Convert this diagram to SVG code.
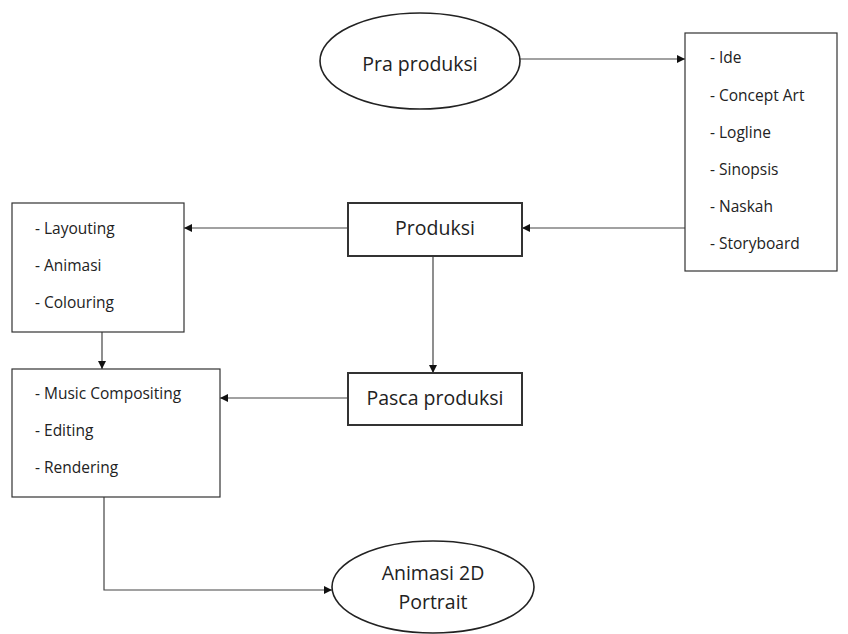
<svg xmlns="http://www.w3.org/2000/svg" width="848" height="634" viewBox="0 0 848 634">
  <style>
    .box { fill: #fff; stroke: #333; stroke-width: 1.2; }
    .boxb { fill: #fff; stroke: #333; stroke-width: 2; }
    .ell { fill: #fff; stroke: #222; stroke-width: 1.6; }
    .t { font-family: "Open Sans", "Liberation Sans", sans-serif; fill: #222; }
    .big { font-size: 19.5px; text-anchor: middle; }
    .sm { font-size: 15.5px; }
    .conn { fill: none; stroke: #444; stroke-width: 1.2; }
  </style>
  <defs>
    <marker id="arr" viewBox="0 0 10 10" refX="10" refY="5" markerWidth="8" markerHeight="8" markerUnits="userSpaceOnUse" orient="auto">
      <path d="M0,0 L10,5 L0,10 Z" fill="#111"/>
    </marker>
  </defs>
  <rect width="848" height="634" fill="#fff"/>

  <g id="connectors">
    <path class="conn" d="M520,59 H685" marker-end="url(#arr)"/>
    <path class="conn" d="M685,228 H522" marker-end="url(#arr)"/>
    <path class="conn" d="M348,228 H184" marker-end="url(#arr)"/>
    <path class="conn" d="M433,256 V373" marker-end="url(#arr)"/>
    <path class="conn" d="M102,332 V369" marker-end="url(#arr)"/>
    <path class="conn" d="M348,398 H220" marker-end="url(#arr)"/>
    <path class="conn" d="M104,497 V590 H332" marker-end="url(#arr)"/>
  </g>

  <g id="pra-produksi">
    <ellipse class="ell" cx="420" cy="61" rx="100" ry="48"/>
    <text class="t big" x="420" y="71">Pra produksi</text>
  </g>

  <g id="pra-list">
    <rect class="box" x="685" y="33" width="152" height="238"/>
    <text class="t sm" x="710" y="63">- Ide</text>
    <text class="t sm" x="710" y="101">- Concept Art</text>
    <text class="t sm" x="710" y="138">- Logline</text>
    <text class="t sm" x="710" y="175">- Sinopsis</text>
    <text class="t sm" x="710" y="212">- Naskah</text>
    <text class="t sm" x="710" y="249">- Storyboard</text>
  </g>

  <g id="produksi">
    <rect class="boxb" x="348" y="203" width="174" height="53"/>
    <text class="t big" x="435" y="235">Produksi</text>
  </g>

  <g id="produksi-list">
    <rect class="box" x="12" y="203" width="172" height="129"/>
    <text class="t sm" x="35" y="234">- Layouting</text>
    <text class="t sm" x="35" y="271">- Animasi</text>
    <text class="t sm" x="35" y="308">- Colouring</text>
  </g>

  <g id="pasca-produksi">
    <rect class="boxb" x="348" y="373" width="174" height="52"/>
    <text class="t big" x="435" y="405">Pasca produksi</text>
  </g>

  <g id="pasca-list">
    <rect class="box" x="12" y="369" width="208" height="128"/>
    <text class="t sm" x="35" y="399">- Music Compositing</text>
    <text class="t sm" x="35" y="436">- Editing</text>
    <text class="t sm" x="35" y="473">- Rendering</text>
  </g>

  <g id="animasi-2d">
    <ellipse class="ell" cx="433" cy="587" rx="101" ry="46"/>
    <text class="t big" x="433" y="580">Animasi 2D</text>
    <text class="t big" x="433" y="609">Portrait</text>
  </g>
</svg>
